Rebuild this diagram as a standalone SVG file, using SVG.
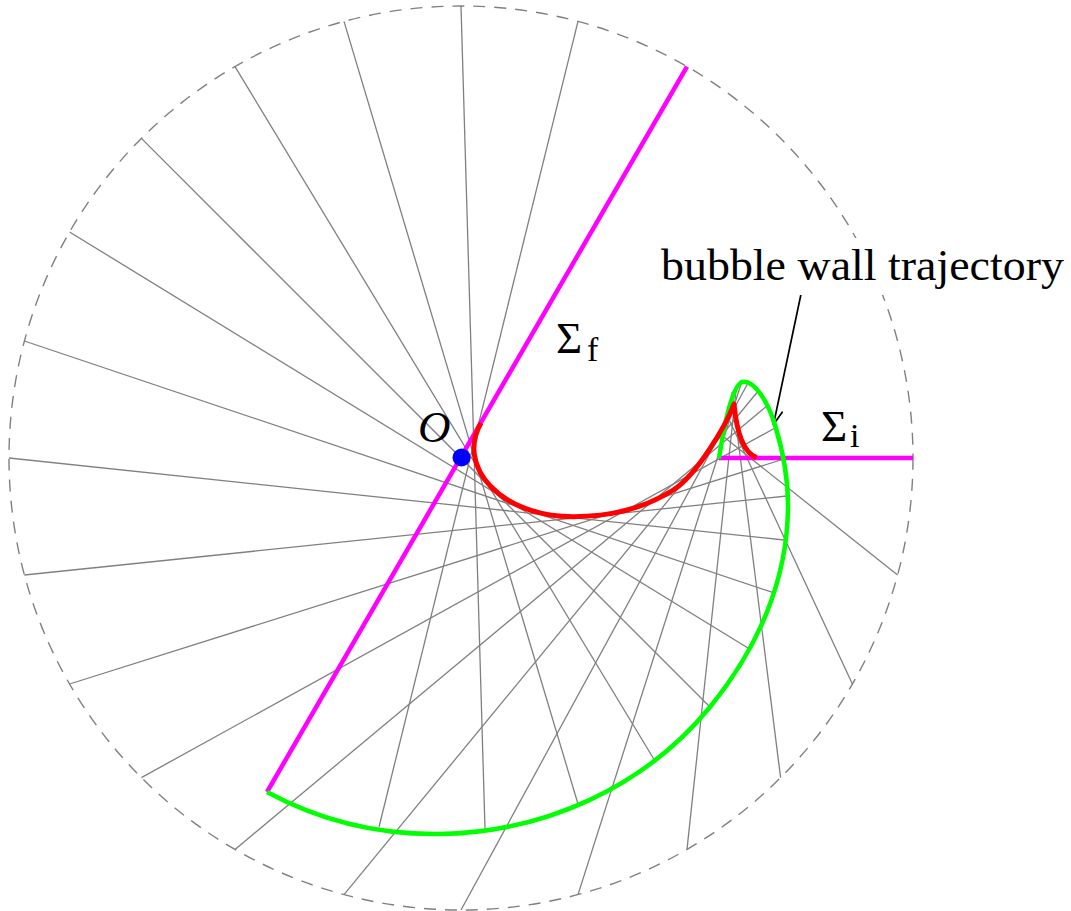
<svg xmlns="http://www.w3.org/2000/svg" width="1071" height="911" viewBox="0 0 1071 911">
<defs>
<style>
.ray{stroke:#808080;stroke-width:1.3;fill:none}
.bound{stroke:#808080;stroke-width:1.4;fill:none;stroke-dasharray:12 9}
.sig{stroke:#ff00ff;stroke-width:4.5;fill:none}
.wall{stroke:#00ff00;stroke-width:4.5;fill:none;stroke-linejoin:round}
.caus{stroke:#ff0000;stroke-width:5;fill:none;stroke-linejoin:round}
.lbl{font-family:"Liberation Serif","DejaVu Serif",serif;fill:#000}
.arrow{stroke:#000;stroke-width:1.7;fill:none;stroke-linecap:round;stroke-linejoin:round}
</style>
</defs>
<rect x="0" y="0" width="1071" height="911" fill="#fff"/>
<g id="boundary">
<circle class="bound" cx="461" cy="458" r="452"/>
</g>
<g id="connectors">
<line class="ray" x1="578" y1="21.4" x2="379" y2="827"/>
<line class="ray" x1="461" y1="6" x2="485" y2="829"/>
<line class="ray" x1="344" y1="21.4" x2="578" y2="804"/>
<line class="ray" x1="235" y1="66.6" x2="655" y2="761"/>
<line class="ray" x1="141.4" y1="138.4" x2="710" y2="707"/>
<line class="ray" x1="69.6" y1="232" x2="750" y2="649.3"/>
<line class="ray" x1="24.4" y1="341" x2="773.3" y2="592.7"/>
<line class="ray" x1="9" y1="458" x2="784" y2="540"/>
<line class="ray" x1="24.4" y1="575" x2="786.7" y2="496"/>
<line class="ray" x1="69.6" y1="684" x2="784" y2="459"/>
<line class="ray" x1="141.4" y1="777.6" x2="775" y2="428"/>
<line class="ray" x1="235" y1="849.4" x2="768" y2="405"/>
<line class="ray" x1="344" y1="894.6" x2="759" y2="390"/>
<line class="ray" x1="461" y1="910" x2="748" y2="383"/>
<line class="ray" x1="578" y1="894.6" x2="741.5" y2="382.5"/>
<line class="ray" x1="687" y1="849.4" x2="736.6" y2="385.5"/>
<line class="ray" x1="780.6" y1="777.6" x2="732" y2="392"/>
<line class="ray" x1="852.4" y1="684" x2="726.5" y2="414"/>
<line class="ray" x1="897.6" y1="575" x2="724" y2="437"/>
<path class="arrow" d="M803.3,283.3 L773.5,424.5"/>
<path class="arrow" d="M782.2,412.2 Q776,421 773.5,424.5 Q772.2,420.3 769.6,409.6"/>
</g>
<g id="sigma-f">
<line class="sig" x1="687" y1="66.6" x2="267" y2="792"/>
<text class="lbl" x="556" y="352.5" font-size="45">Σ</text>
<text class="lbl" x="587" y="361" font-size="34">f</text>
</g>
<g id="sigma-i">
<line class="sig" x1="719" y1="458" x2="913" y2="458"/>
<text class="lbl" x="821" y="440.5" font-size="45">Σ</text>
<text class="lbl" x="850" y="446.5" font-size="34">i</text>
</g>
<g id="bubble-wall">
<path class="wall" d="M719,458.5 C723,432 732,382 743.3,381.7 C755,381 768,402 775,425 C782,448 788,475 788,505 C788,580 757.5,649 710,707 C644.2,787.5 544,832.4 440,834 C379.6,834.9 320.1,820.7 267,792"/>
</g>
<g id="caustic">
<path class="caus" d="M481,423 C456,466.3 500,516.7 573.3,516.7 C610,516.7 643.8,508.8 673.3,490 C696.9,475 726.3,424.7 734,404 C736,425 741,452 756.7,457.7"/>
</g>
<g id="origin">
<circle cx="461.5" cy="457.5" r="9" fill="#0000ff"/>
<text class="lbl" x="418" y="441.5" font-size="45" font-style="italic">O</text>
</g>
<g id="label-wall">
<rect x="652" y="238" width="419" height="57" fill="#fff"/>
<text class="lbl" x="661" y="280" font-size="45" textLength="403" lengthAdjust="spacingAndGlyphs">bubble wall trajectory</text>
</g>
</svg>
